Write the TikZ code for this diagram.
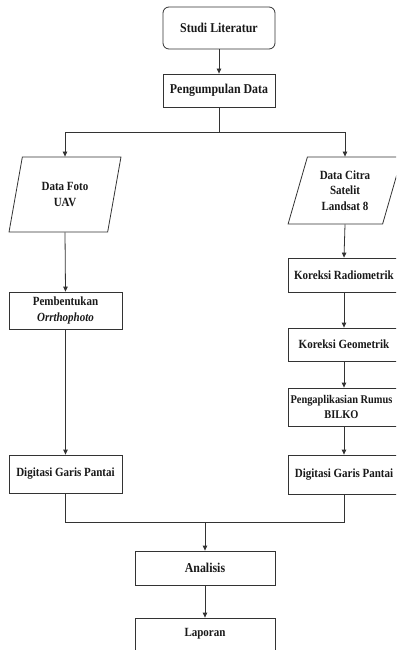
\documentclass[tikz,border=0pt]{standalone}
\usepackage{fontspec}
\setmainfont{Liberation Serif}[FakeStretch=0.88]
\usetikzlibrary{shapes.geometric,arrows.meta}
\begin{document}
\begin{tikzpicture}[x=1pt,y=1pt,
  line/.style={draw=black!80,line width=0.8pt},
  arr/.style={line,-{Triangle[length=5pt,width=4.5pt]}},
  boxtxt/.style={font=\fontsize{12.5}{15.5}\selectfont\bfseries,align=center,text=black!90},
  bigtxt/.style={font=\fontsize{13.5}{16}\selectfont\bfseries,align=center,text=black!90},
  procbox/.style={line,rectangle,inner sep=0pt,boxtxt},
  iobox/.style={line,trapezium,trapezium stretches=true,inner sep=0pt,boxtxt}
]
\useasboundingbox (0,0) rectangle (396,-650);
\path[clip] (0,0) rectangle (396,-650);
\fill[white] (0,0) rectangle (396,-650);

\node[procbox,bigtxt,rounded corners=6pt,minimum width=112pt,minimum height=42pt] (studi) at (219,-28) {Studi Literatur};
\node[procbox,bigtxt,minimum width=112pt,minimum height=33pt] (peng) at (219,-90.5) {Pengumpulan Data};

\node[iobox,trapezium left angle=73,trapezium right angle=107,minimum width=112pt,minimum height=75pt] (uav) at (65,-194.5) {Data Foto\\UAV};
\node[iobox,trapezium left angle=72,trapezium right angle=108,minimum width=114pt,minimum height=67pt] (citra) at (345,-190.5) {Data Citra\\Satelit\\Landsat 8};

\node[procbox,minimum width=113pt,minimum height=37pt] (pem) at (65.5,-310.5) {Pembentukan\\\textit{Orrthophoto}};
\node[procbox,minimum width=113pt,minimum height=38pt] (dig1) at (65.5,-474) {Digitasi Garis Pantai};

\node[procbox,minimum width=112pt,minimum height=34pt] (rad) at (344,-275) {Koreksi Radiometrik};
\node[procbox,minimum width=112pt,minimum height=33pt] (geo) at (344,-344.5) {Koreksi Geometrik};
\node[procbox,minimum width=112pt,minimum height=38pt] (bilko) at (344,-407) {};
\node[font=\fontsize{11.8}{15}\selectfont\bfseries,align=center,text=black!90,inner sep=0pt] (bilkotxt) at (341.5,-407) {Pengaplikasian Rumus\\BILKO};
\node[procbox,minimum width=112pt,minimum height=39pt] (dig2) at (344,-474.5) {Digitasi Garis Pantai};

\node[procbox,bigtxt,minimum width=140pt,minimum height=34pt] (ana) at (205,-568) {Analisis};
\node[procbox,minimum width=140pt,minimum height=44pt,text depth=0pt] (lapbox) at (205,-640) {};
\node[boxtxt] (lap) at (205,-634) {Laporan};

\coordinate (split) at (219,-132);
\coordinate (merge) at (205,-522);

\draw[arr] (studi.south) -- (peng.north);
\draw[line] (peng.south) -- (split);
\draw[arr] (split) -| (uav.north);
\draw[arr] (split) -| (citra.north);
\draw[arr] (uav.south) -- (pem.north);
\draw[arr] (pem.south) -- (dig1.north);
\draw[arr] (citra.south) -- (rad.north);
\draw[arr] (rad.south) -- (geo.north);
\draw[arr] (geo.south) -- (bilko.north);
\draw[arr] (bilko.south) -- (dig2.north);
\draw[line] (dig1.south) |- (merge);
\draw[line] (dig2.south) |- (merge);
\draw[arr] (merge) -- (ana.north);
\draw[arr] (ana.south) -- (lapbox.north);
\end{tikzpicture}
\end{document}
